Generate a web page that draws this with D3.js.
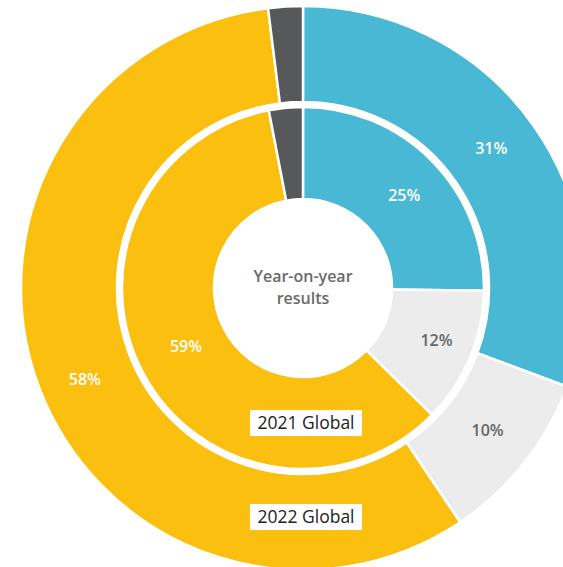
<!DOCTYPE html>
<html>
<head>
<meta charset="utf-8">
<script src="https://cdn.jsdelivr.net/npm/d3@7"></script>
<style>
  html, body { margin: 0; padding: 0; background: #fff; }
  svg { display: block; font-family: "Open Sans", sans-serif; }
</style>
</head>
<body>
<svg id="chart" width="563" height="567"></svg>
<script>
// Segment names shared by both rings
const categories = ["Blue", "Light", "Yellow", "Dark"];
// 2022 results (outer ring) and 2021 results (inner ring), in percent
const values2022 = [31, 10, 58, 2];
const values2021 = [25, 12, 59, 3];
// Printed labels per segment (empty = no label)
const labels2022 = ["31%", "10%", "58%", ""];
const labels2021 = ["25%", "12%", "59%", ""];
const ringNames = ["2021 Global", "2022 Global"];
const centreTitle = ["Year-on-year", "results"];

const colors = d3.scaleOrdinal()
  .domain(categories)
  .range(["#49b8d4", "#ececec", "#fbbf10", "#57585a"]);
const labelColors = d3.scaleOrdinal()
  .domain(categories)
  .range(["#ffffff", "#666666", "#ffffff", "#ffffff"]);

const svg = d3.select("#chart");
const cx = 303, cy = 288;
const g = svg.append("g").attr("transform", `translate(${cx},${cy})`);

const pie = d3.pie().sort(null).value(d => d.value);

// Small nudges applied to each label away from the arc centroid
const rings = [
  { values: values2022, labels: labels2022, inner: 186, outer: 282,
    nudge: [[-4, -6], [1, -3], [1, 9], [0, 0]] },
  { values: values2021, labels: labels2021, inner: 89, outer: 181,
    nudge: [[5, 2], [9, 0], [2, -6], [0, 0]] }
];

rings.forEach(ring => {
  const data = categories.map((c, i) => ({
    cat: c, value: ring.values[i], label: ring.labels[i], nudge: ring.nudge[i]
  }));
  const arc = d3.arc().innerRadius(ring.inner).outerRadius(ring.outer);
  const arcs = pie(data);
  const grp = g.append("g");
  grp.selectAll("path")
    .data(arcs)
    .join("path")
    .attr("d", arc)
    .attr("fill", d => colors(d.data.cat))
    .attr("stroke", "#ffffff")
    .attr("stroke-width", 2.5)
    .attr("stroke-linejoin", "round");
  grp.selectAll("text")
    .data(arcs.filter(d => d.data.label))
    .join("text")
    .attr("transform", d => {
      const [x, y] = arc.centroid(d);
      return `translate(${x + d.data.nudge[0]},${y + d.data.nudge[1]})`;
    })
    .attr("text-anchor", "middle")
    .attr("dy", "0.36em")
    .attr("font-size", 16)
    .attr("font-weight", 600)
    .attr("fill", d => labelColors(d.data.cat))
    .text(d => d.data.label);
});

// Centre title, one text element per line
g.selectAll("text.centre")
  .data(centreTitle)
  .join("text")
  .attr("class", "centre")
  .attr("x", 0)
  .attr("y", (d, i) => -6 + i * 22)
  .attr("text-anchor", "middle")
  .attr("font-size", 16)
  .attr("font-weight", 600)
  .attr("fill", "#6a6a6a")
  .text(d => d);

// Ring name tags
const tagY = [135, 229];
ringNames.forEach((name, i) => {
  const tag = g.append("g").attr("transform", `translate(3,${tagY[i]})`);
  tag.append("rect")
    .attr("x", -56).attr("y", -13)
    .attr("width", 112).attr("height", 26)
    .attr("fill", "#ffffff");
  tag.append("text")
    .attr("text-anchor", "middle")
    .attr("dy", "0.36em")
    .attr("font-size", 17.5)
    .attr("fill", "#222222")
    .text(name);
});
</script>
</body>
</html>
